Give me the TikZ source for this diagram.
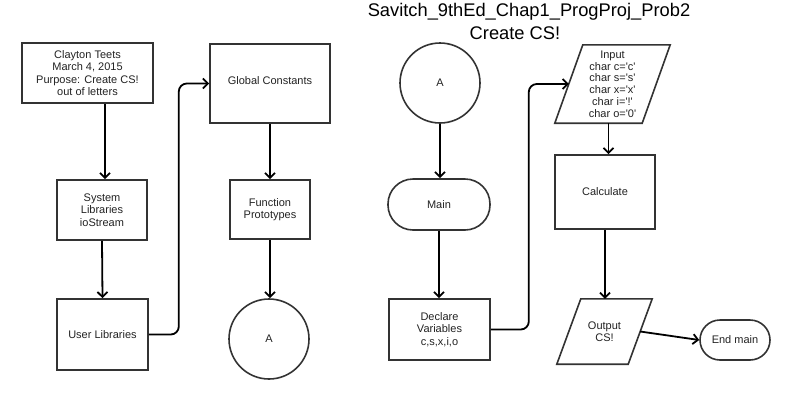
\documentclass[tikz,border=0pt]{standalone}
\usepackage{fontspec}
\setmainfont{Liberation Sans}
\usetikzlibrary{arrows.meta}
\definecolor{bord}{RGB}{51,51,51}
\definecolor{txt}{RGB}{34,34,34}
\begin{document}
\begin{tikzpicture}[x=1pt,y=-1pt,
  every node/.style={font=\fontsize{11}{12.4}\selectfont, text=txt, align=center, inner sep=0pt},
  proc/.style={draw=bord, line width=1.6pt, rectangle},
  term/.style={draw=bord, line width=1.6pt, rectangle, rounded corners=#1},
  conn/.style={draw=bord, line width=1.6pt, circle, minimum size=80pt},
  para/.style={draw=bord, line width=1.6pt, line join=miter},
  arr/.style={draw=black, line width=1.8pt, -{Straight Barb[length=5pt,width=10pt]}},
  title/.style={font=\fontsize{18.3}{21}\selectfont, text=black}
]
\useasboundingbox (0,0) rectangle (796,400);

% title
\node[title] (t1) at (529,12) {Savitch\_9thEd\_Chap1\_ProgProj\_Prob2};
\node[title] (t2) at (515,33) {Create CS!};

% column 1
\node[proc, minimum width=131pt, minimum height=60pt] (b1) at (87.5,73)
  {Clayton Teets\\March 4, 2015\\Purpose: Create CS!\\out of letters};
\node[proc, minimum width=90pt, minimum height=60pt] (sl) at (102,210)
  {System\\Libraries\\ioStream};
\node[proc, minimum width=91pt, minimum height=71pt] (ul) at (102.5,334.5)
  {User Libraries};

% column 2
\node[proc, minimum width=120pt, minimum height=79pt] (gc) at (270,83.5)
  {\raisebox{6pt}{Global Constants}};
\node[proc, minimum width=80pt, minimum height=59pt] (fp) at (270,209.5)
  {Function\\Prototypes};
\node[conn] (a1) at (269,339) {A};

% column 3
\node[conn] (a2) at (440,83) {A};
\node[term=25pt, minimum width=102pt, minimum height=51pt] (mn) at (439,204.5) {Main};
\node[proc, minimum width=101pt, minimum height=61pt] (dv) at (439.5,329.5)
  {Declare\\Variables\\c,s,x,i,o};

% column 4
\node[minimum width=87pt, minimum height=78pt, font=\fontsize{11}{11.8}\selectfont] (in) at (612.5,84)
  {Input\\char c=\textquotesingle c\textquotesingle\\char s=\textquotesingle s\textquotesingle\\char x=\textquotesingle x\textquotesingle\\char i=\textquotesingle !\textquotesingle\\char o=\textquotesingle 0\textquotesingle};
\draw[para] ([xshift=14pt]in.north west) -- ([xshift=14pt]in.north east)
  -- ([xshift=-14pt]in.south east) -- ([xshift=-14pt]in.south west) -- cycle;
\node[proc, minimum width=100pt, minimum height=74pt] (cl) at (605,192) {Calculate};
\node[minimum width=71pt, minimum height=65pt] (out) at (604.5,331.5) {Output\\CS!};
\draw[para] ([xshift=12pt]out.north west) -- ([xshift=12pt]out.north east)
  -- ([xshift=-12pt]out.south east) -- ([xshift=-12pt]out.south west) -- cycle;
\node[term=20pt, minimum width=70pt, minimum height=40pt] (em) at (735,340) {End main};

% connectors
\draw[arr] ([xshift=3pt]sl.north |- b1.south) -- ([xshift=3pt]sl.north);
\draw[arr] (sl.south) -- (ul.north);
\draw[arr, rounded corners=8pt] (ul.east) -- ++(30,0) |- (gc.west);
\draw[arr] (gc.south) -- (fp.north);
\draw[arr] (fp.south) -- (fp.south |- a1.north);
\draw[arr] (a2.south) -- (a2.south |- mn.north);
\draw[arr] (mn.south) -- (mn.south |- dv.north);
\draw[arr, rounded corners=8pt] (dv.east) -- ++(38,0) |- (in.west);
\draw[arr] ([xshift=-4pt]in.south) -- ([xshift=-4pt]in.south |- cl.north);
\draw[arr] (cl.south) -- (cl.south |- out.north);
\draw[arr] (out.east) -- (em.west);
\end{tikzpicture}
\end{document}
